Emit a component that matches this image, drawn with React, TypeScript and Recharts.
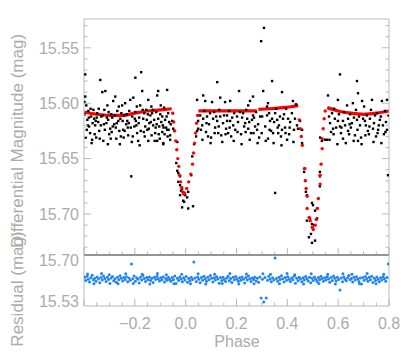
import { ComposedChart, Scatter, Line, XAxis, YAxis } from 'recharts'

// phase ticks (minor every 0.05, labelled every 0.2)
const phaseTicks = [
  -0.4, -0.35, -0.3, -0.25, -0.2, -0.15, -0.1, -0.05, 0, 0.05, 0.1, 0.15, 0.2, 0.25, 0.3, 0.35, 0.4, 0.45,
  0.5, 0.55, 0.6, 0.65, 0.7, 0.75, 0.8,
]
const phaseLabels = [-0.2, 0, 0.2, 0.4, 0.6, 0.8]
const magTicks = [
  15.53, 15.54, 15.55, 15.56, 15.57, 15.58, 15.59, 15.6, 15.61, 15.62, 15.63, 15.64, 15.65, 15.66, 15.67,
  15.68, 15.69, 15.7, 15.71, 15.72, 15.73,
]
const residTicks = [15.53, 15.7]

// observed light curve [phase, mag]
const observed: [number, number][] = [
  [-0.398, 15.599], [-0.395, 15.594], [-0.395, 15.574], [-0.391, 15.602], [-0.387, 15.615], [-0.383, 15.607],
  [-0.38, 15.621], [-0.376, 15.627], [-0.372, 15.612], [-0.368, 15.633], [-0.363, 15.606], [-0.36, 15.614],
  [-0.356, 15.62], [-0.352, 15.631], [-0.348, 15.609], [-0.344, 15.617], [-0.34, 15.625], [-0.336, 15.579],
  [-0.332, 15.612], [-0.328, 15.59], [-0.324, 15.634], [-0.32, 15.606], [-0.316, 15.589], [-0.312, 15.618],
  [-0.308, 15.602], [-0.305, 15.615], [-0.301, 15.628], [-0.297, 15.623], [-0.293, 15.61], [-0.289, 15.613],
  [-0.285, 15.598], [-0.281, 15.619], [-0.277, 15.594], [-0.273, 15.632], [-0.269, 15.607], [-0.265, 15.616],
  [-0.261, 15.625], [-0.257, 15.614], [-0.253, 15.609], [-0.25, 15.602], [-0.246, 15.624], [-0.242, 15.611],
  [-0.238, 15.6], [-0.234, 15.619], [-0.23, 15.616], [-0.226, 15.629], [-0.222, 15.607], [-0.218, 15.597],
  [-0.214, 15.666], [-0.21, 15.612], [-0.206, 15.595], [-0.202, 15.621], [-0.198, 15.608], [-0.198, 15.577],
  [-0.194, 15.62], [-0.191, 15.627], [-0.187, 15.634], [-0.183, 15.613], [-0.179, 15.602], [-0.175, 15.572],
  [-0.171, 15.589], [-0.167, 15.614], [-0.163, 15.609], [-0.159, 15.621], [-0.155, 15.606], [-0.151, 15.624],
  [-0.147, 15.597], [-0.147, 15.634], [-0.143, 15.618], [-0.139, 15.611], [-0.135, 15.603], [-0.132, 15.609],
  [-0.128, 15.62], [-0.124, 15.615], [-0.12, 15.627], [-0.116, 15.608], [-0.112, 15.593], [-0.112, 15.634],
  [-0.108, 15.589], [-0.108, 15.614], [-0.104, 15.621], [-0.1, 15.61], [-0.096, 15.617], [-0.092, 15.612],
  [-0.092, 15.626], [-0.088, 15.636], [-0.085, 15.604], [-0.081, 15.615], [-0.077, 15.622], [-0.073, 15.588],
  [-0.073, 15.624], [-0.069, 15.609], [-0.065, 15.617], [-0.061, 15.633],
  [-0.396, 15.61], [-0.389, 15.624], [-0.381, 15.613], [-0.374, 15.605], [-0.366, 15.618], [-0.358, 15.628],
  [-0.35, 15.613], [-0.342, 15.605], [-0.334, 15.62], [-0.326, 15.611], [-0.318, 15.624], [-0.31, 15.613],
  [-0.303, 15.608], [-0.295, 15.632], [-0.287, 15.621], [-0.279, 15.611], [-0.271, 15.618], [-0.263, 15.603],
  [-0.255, 15.63], [-0.248, 15.616], [-0.24, 15.625], [-0.232, 15.61], [-0.224, 15.618], [-0.216, 15.622],
  [-0.208, 15.63], [-0.2, 15.614], [-0.192, 15.603], [-0.185, 15.618], [-0.177, 15.625], [-0.169, 15.606],
  [-0.161, 15.63], [-0.153, 15.615], [-0.145, 15.623], [-0.137, 15.617], [-0.129, 15.606], [-0.122, 15.634],
  [-0.114, 15.619], [-0.106, 15.628], [-0.098, 15.602], [-0.09, 15.62], [-0.083, 15.628], [-0.075, 15.612],
  [-0.067, 15.624], [-0.059, 15.619],
  [-0.393, 15.631], [-0.385, 15.62], [-0.37, 15.636], [-0.354, 15.616], [-0.338, 15.632], [-0.322, 15.619],
  [-0.306, 15.637], [-0.291, 15.626], [-0.275, 15.622], [-0.259, 15.637], [-0.244, 15.631], [-0.228, 15.622],
  [-0.212, 15.635], [-0.196, 15.616], [-0.181, 15.638], [-0.165, 15.626], [-0.149, 15.61], [-0.134, 15.629],
  [-0.118, 15.622], [-0.102, 15.632], [-0.087, 15.622], [-0.071, 15.63],
  // primary eclipse
  [-0.053, 15.616], [-0.049, 15.623], [-0.061, 15.629], [-0.045, 15.625], [-0.088, 15.637], [-0.033, 15.635],
  [-0.037, 15.654], [-0.033, 15.661], [-0.029, 15.663], [-0.022, 15.666], [-0.029, 15.671], [-0.022, 15.674],
  [-0.014, 15.677], [-0.022, 15.683], [-0.002, 15.683], [0.01, 15.68], [0.006, 15.685], [-0.01, 15.688],
  [-0.014, 15.694], [0.01, 15.695], [0.029, 15.693], [0.022, 15.665], [0.026, 15.648], [0.033, 15.637],
  [0.041, 15.63], [0.049, 15.623], [-0.018, 15.679], [-0.006, 15.689],
  // between eclipses
  [0.045, 15.597], [0.049, 15.616], [0.045, 15.625], [0.057, 15.611], [0.065, 15.62], [0.069, 15.593],
  [0.069, 15.614], [0.077, 15.598], [0.084, 15.612], [0.088, 15.63], [0.096, 15.609], [0.104, 15.599],
  [0.108, 15.614], [0.124, 15.581], [0.124, 15.616], [0.128, 15.627], [0.136, 15.595], [0.136, 15.612],
  [0.147, 15.618], [0.155, 15.599], [0.163, 15.611], [0.163, 15.616], [0.167, 15.627], [0.175, 15.598],
  [0.175, 15.616], [0.187, 15.62], [0.202, 15.612], [0.21, 15.589], [0.226, 15.609], [0.234, 15.618],
  [0.242, 15.614], [0.246, 15.602], [0.246, 15.623], [0.253, 15.598], [0.261, 15.615], [0.265, 15.594],
  [0.265, 15.611], [0.273, 15.621], [0.281, 15.624], [0.301, 15.612], [0.305, 15.589], [0.32, 15.603],
  [0.32, 15.611], [0.324, 15.6], [0.324, 15.632], [0.332, 15.616], [0.34, 15.58], [0.34, 15.614],
  [0.344, 15.627], [0.352, 15.609], [0.36, 15.615], [0.364, 15.627], [0.371, 15.612], [0.379, 15.59],
  [0.379, 15.624], [0.383, 15.614], [0.399, 15.633], [0.403, 15.614], [0.422, 15.598], [0.43, 15.614],
  [0.438, 15.62], [0.442, 15.623], [0.45, 15.616], [0.458, 15.624],
  [0.308, 15.532], [0.297, 15.544], [0.352, 15.681],
  [0.06, 15.624], [0.073, 15.607], [0.08, 15.626], [0.092, 15.619], [0.1, 15.631], [0.112, 15.608],
  [0.116, 15.622], [0.12, 15.612], [0.132, 15.606], [0.14, 15.629], [0.151, 15.611], [0.159, 15.623],
  [0.171, 15.607], [0.179, 15.63], [0.183, 15.613], [0.191, 15.609], [0.195, 15.624], [0.206, 15.617],
  [0.214, 15.608], [0.218, 15.628], [0.222, 15.613], [0.23, 15.621], [0.238, 15.606], [0.25, 15.617],
  [0.257, 15.627], [0.269, 15.613], [0.277, 15.608], [0.285, 15.619], [0.289, 15.631], [0.293, 15.612],
  [0.313, 15.621], [0.328, 15.609], [0.336, 15.625], [0.348, 15.617], [0.356, 15.605], [0.367, 15.62],
  [0.375, 15.63], [0.387, 15.61], [0.391, 15.622], [0.395, 15.605], [0.407, 15.628], [0.411, 15.617],
  [0.418, 15.609], [0.426, 15.624], [0.434, 15.601],
  [0.066, 15.633], [0.082, 15.618], [0.098, 15.636], [0.114, 15.627], [0.13, 15.621], [0.144, 15.635],
  [0.157, 15.628], [0.173, 15.622], [0.189, 15.634], [0.204, 15.626], [0.22, 15.637], [0.236, 15.626],
  [0.252, 15.633], [0.267, 15.627], [0.283, 15.636], [0.299, 15.627], [0.315, 15.634], [0.33, 15.624],
  [0.346, 15.636], [0.362, 15.622], [0.377, 15.638], [0.393, 15.627], [0.409, 15.622], [0.424, 15.635],
  // secondary eclipse
  [0.458, 15.636], [0.466, 15.662], [0.47, 15.659], [0.47, 15.67], [0.473, 15.68], [0.477, 15.683],
  [0.497, 15.69], [0.501, 15.692], [0.509, 15.697], [0.517, 15.695], [0.477, 15.706], [0.489, 15.704],
  [0.517, 15.704], [0.497, 15.709], [0.505, 15.71], [0.493, 15.718], [0.485, 15.721], [0.509, 15.724],
  [0.497, 15.726], [0.528, 15.662], [0.528, 15.666], [0.528, 15.675], [0.548, 15.633], [0.536, 15.634],
  [0.529, 15.631], [0.556, 15.633],
  // after secondary
  [0.56, 15.593], [0.576, 15.609], [0.587, 15.614], [0.599, 15.597], [0.599, 15.616], [0.568, 15.618],
  [0.58, 15.623], [0.607, 15.574], [0.607, 15.621], [0.619, 15.616], [0.619, 15.632], [0.635, 15.602],
  [0.639, 15.614], [0.639, 15.625], [0.654, 15.618], [0.658, 15.6], [0.674, 15.58], [0.674, 15.615],
  [0.678, 15.591], [0.678, 15.634], [0.686, 15.62], [0.694, 15.598], [0.705, 15.616], [0.717, 15.625],
  [0.725, 15.614], [0.733, 15.597], [0.737, 15.623], [0.745, 15.611], [0.757, 15.624], [0.764, 15.615],
  [0.772, 15.598], [0.776, 15.62], [0.792, 15.597], [0.792, 15.624], [0.796, 15.665],
  [0.564, 15.612], [0.572, 15.626], [0.584, 15.605], [0.592, 15.622], [0.603, 15.61], [0.611, 15.627],
  [0.623, 15.608], [0.627, 15.62], [0.643, 15.628], [0.647, 15.61], [0.65, 15.622], [0.662, 15.613],
  [0.666, 15.629], [0.67, 15.606], [0.682, 15.612], [0.69, 15.631], [0.698, 15.614], [0.702, 15.603],
  [0.709, 15.62], [0.713, 15.611], [0.721, 15.628], [0.729, 15.606], [0.741, 15.618], [0.749, 15.63],
  [0.753, 15.609], [0.76, 15.62], [0.768, 15.612], [0.78, 15.628], [0.784, 15.607], [0.788, 15.617],
  [0.798, 15.611],
  [0.566, 15.633], [0.582, 15.628], [0.597, 15.637], [0.613, 15.622], [0.63, 15.636], [0.645, 15.619],
  [0.661, 15.634], [0.676, 15.624], [0.692, 15.637], [0.707, 15.629], [0.723, 15.621], [0.739, 15.635],
  [0.755, 15.627], [0.77, 15.636], [0.786, 15.626],
]

// model, out of eclipse (drawn as thick line segments)
const modelA: [number, number][] = [
  [-0.4, 15.608], [-0.35, 15.61], [-0.3, 15.611], [-0.25, 15.611], [-0.2, 15.609], [-0.15, 15.607],
  [-0.1, 15.606], [-0.055, 15.605],
]
const modelB: [number, number][] = [
  [0.05, 15.607], [0.1, 15.607], [0.15, 15.607], [0.2, 15.607], [0.25, 15.607], [0.28, 15.607],
]
const modelC: [number, number][] = [
  [0.286, 15.6055], [0.33, 15.605], [0.38, 15.604], [0.42, 15.603], [0.443, 15.602],
]
const modelD: [number, number][] = [
  [0.557, 15.604], [0.6, 15.607], [0.65, 15.609], [0.7, 15.61], [0.75, 15.609], [0.8, 15.607],
]

// model inside the eclipses (sampled at observed phases)
const modelEclipse: [number, number][] = [
  [-0.051, 15.609], [-0.047, 15.617], [-0.043, 15.625], [-0.039, 15.634], [-0.035, 15.642], [-0.031, 15.65],
  [-0.027, 15.657], [-0.024, 15.665], [-0.02, 15.671], [-0.016, 15.676], [-0.012, 15.68], [-0.008, 15.682],
  [-0.004, 15.681], [0.004, 15.677], [0.012, 15.671], [0.02, 15.664], [0.027, 15.655], [0.031, 15.645],
  [0.035, 15.636], [0.039, 15.627], [0.043, 15.618], [0.047, 15.611],
  [0.447, 15.615], [0.451, 15.623], [0.455, 15.63], [0.459, 15.638], [0.467, 15.659], [0.471, 15.67],
  [0.474, 15.677], [0.478, 15.684], [0.478, 15.695], [0.486, 15.703], [0.49, 15.706], [0.498, 15.712],
  [0.502, 15.714], [0.51, 15.71], [0.514, 15.705], [0.518, 15.695], [0.522, 15.686], [0.529, 15.673],
  [0.529, 15.665], [0.533, 15.655], [0.537, 15.641], [0.537, 15.632], [0.541, 15.623], [0.545, 15.614],
  [0.549, 15.607],
]

// residuals [phase, value]
const residuals: [number, number][] = [
  [-0.398, 15.628], [-0.393, 15.615], [-0.388, 15.633], [-0.383, 15.62], [-0.378, 15.609], [-0.373, 15.626],
  [-0.368, 15.637], [-0.363, 15.618], [-0.358, 15.624], [-0.353, 15.612], [-0.348, 15.63], [-0.343, 15.621],
  [-0.338, 15.606], [-0.333, 15.627], [-0.328, 15.617], [-0.323, 15.634], [-0.318, 15.623], [-0.313, 15.611],
  [-0.308, 15.629], [-0.303, 15.619], [-0.298, 15.603], [-0.293, 15.625], [-0.288, 15.632], [-0.283, 15.614],
  [-0.278, 15.622], [-0.273, 15.608], [-0.268, 15.628], [-0.263, 15.618], [-0.258, 15.635], [-0.253, 15.624],
  [-0.248, 15.613], [-0.243, 15.627], [-0.238, 15.619], [-0.233, 15.631], [-0.228, 15.61], [-0.223, 15.625],
  [-0.218, 15.616], [-0.213, 15.684], [-0.208, 15.622], [-0.203, 15.634], [-0.198, 15.612], [-0.193, 15.626],
  [-0.188, 15.62], [-0.183, 15.605], [-0.178, 15.629], [-0.173, 15.617], [-0.168, 15.636], [-0.163, 15.623],
  [-0.158, 15.611], [-0.153, 15.627], [-0.148, 15.618], [-0.143, 15.63], [-0.138, 15.615], [-0.133, 15.624],
  [-0.128, 15.607], [-0.123, 15.628], [-0.118, 15.619], [-0.113, 15.633], [-0.108, 15.622], [-0.103, 15.613],
  [-0.098, 15.626], [-0.093, 15.618], [-0.088, 15.631], [-0.083, 15.609], [-0.078, 15.623], [-0.073, 15.616],
  [-0.068, 15.629], [-0.063, 15.62], [-0.058, 15.612], [-0.053, 15.627], [-0.048, 15.618], [-0.043, 15.634],
  [-0.038, 15.603], [-0.033, 15.624], [-0.028, 15.615], [-0.023, 15.63], [-0.018, 15.621], [-0.013, 15.61],
  [-0.008, 15.626], [-0.003, 15.617], [0.002, 15.632], [0.007, 15.608], [0.012, 15.623], [0.017, 15.614],
  [0.022, 15.628], [0.027, 15.619], [0.032, 15.692], [0.037, 15.625], [0.042, 15.611], [0.047, 15.63],
  [0.052, 15.62], [0.057, 15.606], [0.062, 15.627], [0.067, 15.616], [0.072, 15.633], [0.077, 15.622],
  [0.082, 15.612], [0.087, 15.628], [0.092, 15.618], [0.097, 15.636], [0.102, 15.624], [0.107, 15.609],
  [0.112, 15.626], [0.117, 15.617], [0.122, 15.631], [0.127, 15.621], [0.132, 15.604], [0.137, 15.627],
  [0.142, 15.615], [0.147, 15.629], [0.152, 15.619], [0.157, 15.611], [0.162, 15.625], [0.167, 15.633],
  [0.172, 15.614], [0.177, 15.623], [0.182, 15.607], [0.187, 15.628], [0.192, 15.618], [0.197, 15.632],
  [0.202, 15.621], [0.207, 15.612], [0.212, 15.626], [0.217, 15.616], [0.222, 15.63], [0.227, 15.62],
  [0.232, 15.605], [0.237, 15.627], [0.242, 15.617], [0.247, 15.634], [0.252, 15.622], [0.257, 15.611],
  [0.262, 15.625], [0.267, 15.619], [0.272, 15.629], [0.277, 15.613], [0.282, 15.624], [0.287, 15.608],
  [0.292, 15.63], [0.297, 15.542], [0.302, 15.62], [0.307, 15.526], [0.312, 15.627], [0.317, 15.542],
  [0.322, 15.616], [0.327, 15.633], [0.332, 15.621], [0.337, 15.61], [0.342, 15.626], [0.347, 15.617],
  [0.352, 15.709], [0.357, 15.623], [0.362, 15.612], [0.367, 15.628], [0.372, 15.619], [0.377, 15.635],
  [0.382, 15.622], [0.387, 15.609], [0.392, 15.627], [0.397, 15.616], [0.402, 15.631], [0.407, 15.62],
  [0.412, 15.611], [0.417, 15.625], [0.422, 15.618], [0.427, 15.633], [0.432, 15.604], [0.437, 15.624],
  [0.442, 15.614], [0.447, 15.629], [0.452, 15.621], [0.457, 15.61], [0.462, 15.626], [0.467, 15.617],
  [0.472, 15.632], [0.477, 15.622], [0.482, 15.613], [0.487, 15.628], [0.492, 15.606], [0.497, 15.624],
  [0.502, 15.615], [0.507, 15.63], [0.512, 15.62], [0.517, 15.611], [0.522, 15.627], [0.527, 15.618],
  [0.532, 15.633], [0.537, 15.623], [0.542, 15.612], [0.547, 15.626], [0.552, 15.617], [0.557, 15.631],
  [0.562, 15.621], [0.567, 15.608], [0.572, 15.627], [0.577, 15.615], [0.582, 15.634], [0.587, 15.624],
  [0.592, 15.613], [0.597, 15.628], [0.602, 15.619], [0.607, 15.576], [0.612, 15.625], [0.617, 15.61],
  [0.622, 15.63], [0.627, 15.62], [0.632, 15.614], [0.637, 15.626], [0.642, 15.636], [0.647, 15.618],
  [0.652, 15.623], [0.657, 15.609], [0.662, 15.629], [0.667, 15.617], [0.672, 15.631], [0.677, 15.621],
  [0.682, 15.611], [0.687, 15.625], [0.692, 15.6], [0.697, 15.627], [0.702, 15.616], [0.707, 15.632],
  [0.712, 15.622], [0.717, 15.612], [0.722, 15.628], [0.727, 15.618], [0.732, 15.633], [0.737, 15.607],
  [0.742, 15.624], [0.747, 15.615], [0.752, 15.63], [0.757, 15.62], [0.762, 15.61], [0.767, 15.626],
  [0.772, 15.617], [0.777, 15.631], [0.782, 15.622], [0.787, 15.612], [0.792, 15.627], [0.797, 15.684],
  [-0.386, 15.642], [-0.361, 15.602], [-0.331, 15.644], [-0.301, 15.639], [-0.266, 15.601], [-0.236, 15.643],
  [-0.206, 15.603], [-0.171, 15.641], [-0.141, 15.6], [-0.111, 15.644], [-0.076, 15.639], [-0.046, 15.601],
  [-0.016, 15.641], [0.019, 15.602], [0.049, 15.643], [0.079, 15.6], [0.114, 15.641], [0.144, 15.603],
  [0.174, 15.644], [0.209, 15.6], [0.239, 15.642], [0.269, 15.602], [0.304, 15.643], [0.334, 15.641],
  [0.369, 15.601], [0.399, 15.644], [0.429, 15.639], [0.464, 15.6], [0.494, 15.643], [0.524, 15.603],
  [0.559, 15.641], [0.589, 15.6], [0.619, 15.643], [0.654, 15.641], [0.684, 15.601], [0.714, 15.644],
  [0.749, 15.602], [0.779, 15.641],
]

const FONT = '"Liberation Sans", Arial, Helvetica, sans-serif'
const TXT = '#ababab'
const FRAME = '#b9b9b9'
const DARK = '#707070'

const toXY = (a: [number, number][]) => a.map(([x, y]) => ({ x, y }))
const isMajor = (v: number, step: number) => Math.abs(v / step - Math.round(v / step)) < 1e-6
const hasLabel = (v: number) => phaseLabels.some((l) => Math.abs(l - v) < 1e-6)
const fmtPhase = (v: number) => (v < -1e-9 ? '\u2212' + Math.abs(v).toFixed(1) : Math.abs(v).toFixed(1))

type TickProps = { x?: number; y?: number; payload?: { value: number }; labels?: boolean; up?: boolean }

// x ticks pointing into the plot; up = axis on bottom edge
function PhaseTick({ x = 0, y = 0, payload, labels, up }: TickProps) {
  const v = payload?.value ?? 0
  const major = isMajor(v, 0.2)
  const len = major ? 7 : 3.5
  return (
    <g>
      <line x1={x} x2={x} y1={y} y2={up ? y - len : y + len} stroke={FRAME} />
      {labels && hasLabel(v) && (
        <text x={x} y={y + 23} textAnchor="middle" fontSize={16} fill={TXT} fontFamily={FONT}>
          {fmtPhase(v)}
        </text>
      )}
    </g>
  )
}

function MagTick({ x = 0, y = 0, payload, labels, up }: TickProps) {
  const v = payload?.value ?? 0
  const major = isMajor(v, 0.05)
  const len = major ? 7 : 3.5
  // up here means the axis sits on the right edge
  return (
    <g>
      <line x1={x} x2={up ? x - len : x + len} y1={y} y2={y} stroke={FRAME} />
      {labels && major && (
        <text x={x - 5} y={y} dy="0.36em" textAnchor="end" fontSize={16} fill={TXT} fontFamily={FONT}>
          {v.toFixed(2)}
        </text>
      )}
    </g>
  )
}

function ResidTick({ x = 0, y = 0, payload }: TickProps) {
  const v = payload?.value ?? 0
  return (
    <text x={x - 5} y={y} dy="0.36em" textAnchor="end" fontSize={16} fill={TXT} fontFamily={FONT}>
      {v.toFixed(2)}
    </text>
  )
}

const blackDot = (p: any) => <rect x={p.cx - 1.2} y={p.cy - 1.2} width={2.4} height={2.4} fill="#000" />
const redDot = (p: any) => <circle cx={p.cx} cy={p.cy} r={1.7} fill="#ff0000" />
const blueDot = (p: any) => <circle cx={p.cx} cy={p.cy} r={1.5} fill="#1f84f2" />

const vTitle = (text: string, cy: number) => () => (
  <text
    transform={`translate(17.5, ${cy}) rotate(-90)`}
    textAnchor="middle"
    dominantBaseline="central"
    fontSize={17}
    fill={TXT}
    fontFamily={FONT}
  >
    {text}
  </text>
)

export default function App() {
  return (
    <div style={{ position: 'absolute', left: 0, top: 0, width: 420, height: 354, background: '#fff' }}>
      <div style={{ position: 'absolute', left: 0, top: 0 }}>
        <ComposedChart width={420} height={256} margin={{ top: 18, right: 0, bottom: 0, left: 0 }}>
          <XAxis
            dataKey="x"
            type="number"
            domain={[-0.4, 0.8]}
            ticks={phaseTicks}
            interval={0}
            height={1}
            tickSize={0}
            tickMargin={0}
            tickLine={false}
            stroke={DARK}
            tick={<PhaseTick up />}
            allowDataOverflow
          />
          <XAxis
            xAxisId="top"
            orientation="top"
            type="number"
            domain={[-0.4, 0.8]}
            ticks={phaseTicks}
            interval={0}
            height={1}
            tickSize={0}
            tickMargin={0}
            tickLine={false}
            stroke={FRAME}
            tick={<PhaseTick />}
            allowDataOverflow
          />
          <YAxis
            dataKey="y"
            type="number"
            reversed
            domain={[15.524, 15.737]}
            ticks={magTicks}
            interval={0}
            width={84}
            tickSize={0}
            tickMargin={0}
            tickLine={false}
            stroke={FRAME}
            tick={<MagTick labels />}
            allowDataOverflow
            label={{ content: vTitle('Differential Magnitude (mag)', 141) }}
          />
          <YAxis
            yAxisId="r"
            orientation="right"
            type="number"
            reversed
            domain={[15.524, 15.737]}
            ticks={magTicks}
            interval={0}
            width={31}
            tickSize={0}
            tickMargin={0}
            tickLine={false}
            stroke={FRAME}
            tick={<MagTick up />}
            allowDataOverflow
          />
          <Scatter data={toXY(observed)} shape={blackDot} isAnimationActive={false} />
          <Scatter data={toXY(modelEclipse)} shape={redDot} isAnimationActive={false} />
          {[modelA, modelB, modelC, modelD].map((seg, i) => (
            <Line
              key={i}
              data={toXY(seg)}
              dataKey="y"
              type="monotone"
              stroke="#ff0000"
              strokeWidth={3.2}
              dot={false}
              activeDot={false}
              isAnimationActive={false}
            />
          ))}
        </ComposedChart>
      </div>
      <div style={{ position: 'absolute', left: 0, top: 0 }}>
        <ComposedChart width={420} height={354} margin={{ top: 254, right: 0, bottom: 0, left: 0 }}>
          <XAxis
            dataKey="x"
            type="number"
            domain={[-0.4, 0.8]}
            ticks={phaseTicks}
            interval={0}
            height={48}
            tickSize={0}
            tickMargin={0}
            tickLine={false}
            stroke={FRAME}
            tick={<PhaseTick up labels />}
            allowDataOverflow
            label={{
              content: () => (
                <text x={237} y={347} textAnchor="middle" fontSize={16} fill={TXT} fontFamily={FONT}>
                  Phase
                </text>
              ),
            }}
          />
          <XAxis
            xAxisId="top"
            orientation="top"
            type="number"
            domain={[-0.4, 0.8]}
            ticks={phaseTicks}
            interval={0}
            height={1}
            tickSize={0}
            tickMargin={0}
            tickLine={false}
            stroke={DARK}
            tick={<PhaseTick />}
            allowDataOverflow
          />
          <YAxis
            dataKey="y"
            type="number"
            domain={[15.509, 15.721]}
            ticks={residTicks}
            interval={0}
            width={84}
            tickSize={0}
            tickMargin={0}
            tickLine={false}
            stroke={FRAME}
            tick={<ResidTick />}
            allowDataOverflow
            label={{ content: vTitle('Residual (mag)', 289) }}
          />
          <YAxis
            yAxisId="r"
            orientation="right"
            type="number"
            domain={[15.509, 15.721]}
            ticks={residTicks}
            width={31}
            tick={false}
            tickLine={false}
            stroke={FRAME}
            allowDataOverflow
          />
          <Scatter data={toXY(residuals)} shape={blueDot} isAnimationActive={false} />
        </ComposedChart>
      </div>
    </div>
  )
}
